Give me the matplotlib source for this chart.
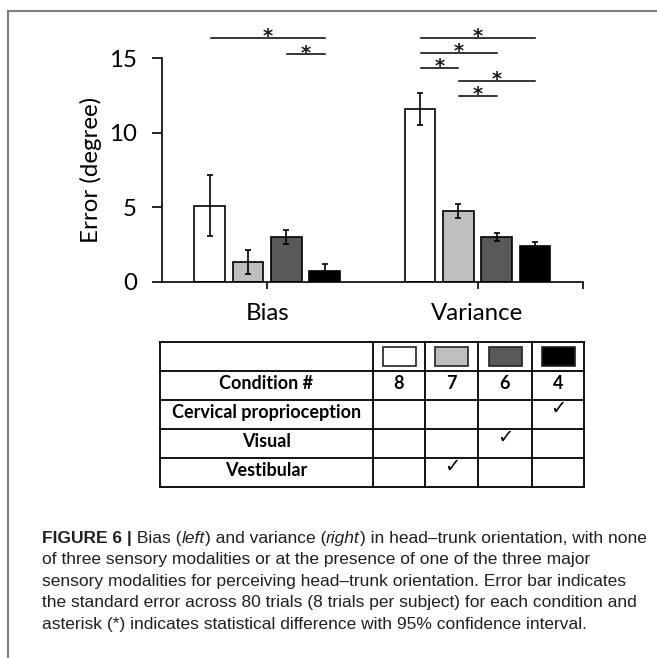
import matplotlib
matplotlib.use("Agg")
import matplotlib.pyplot as plt
from matplotlib.patches import Rectangle
import numpy as np

# ---------------- data ----------------
groups = ["Bias", "Variance"]
conditions = ["8", "7", "6", "4"]
bar_colors = ["#ffffff", "#bfbfbf", "#595959", "#000000"]
bias_vals = [5.1, 1.35, 3.0, 0.75]
bias_err = [2.05, 0.8, 0.5, 0.43]
var_vals = [11.6, 4.75, 3.0, 2.38]
var_err = [1.05, 0.48, 0.3, 0.28]
yticks = [0, 5, 10, 15]
# significance brackets: (group index, bar i, bar j, height)
sig_pairs = [(0, 0, 3, 16.38), (0, 2, 3, 15.26),
             (1, 0, 3, 16.38), (1, 0, 2, 15.35), (1, 0, 1, 14.34),
             (1, 1, 3, 13.49), (1, 1, 2, 12.48)]
row_labels = ["Condition #", "Cervical proprioception", "Visual", "Vestibular"]
# which condition column (0-based) carries a check for each modality row
checks = {"Cervical proprioception": 3, "Visual": 2, "Vestibular": 1}

caption_lines = [
    [("FIGURE 6 |", "bold", "normal"), (" Bias (", "normal", "normal"),
     ("left", "normal", "italic"), (") and variance (", "normal", "normal"),
     ("right", "normal", "italic"),
     (") in head\u2013trunk orientation, with none", "normal", "normal")],
    [("of three sensory modalities or at the presence of one of the three major", "normal", "normal")],
    [("sensory modalities for perceiving head\u2013trunk orientation. Error bar indicates", "normal", "normal")],
    [("the standard error across 80 trials (8 trials per subject) for each condition and", "normal", "normal")],
    [("asterisk (*) indicates statistical difference with 95% confidence interval.", "normal", "normal")],
]

# ---------------- figure ----------------
W, H = 657, 658
fig = plt.figure(figsize=(W / 100, H / 100), dpi=100)
fig.patch.set_facecolor("white")

def fx(px):
    return px / W

def fy(py):
    return 1 - py / H

# frame lines (top and left)
fig.add_artist(plt.Line2D([fx(8), fx(657)], [fy(10.5), fy(10.5)], color="#808080", lw=1.5))
fig.add_artist(plt.Line2D([fx(8), fx(8)], [fy(10.5), fy(658)], color="#808080", lw=1.5))

FONT = ["Lato", "DejaVu Sans"]
AX_FS = 17.3

ax = fig.add_axes([fx(162), fy(281.7), (582.7 - 162) / W, (281.7 - 58.3) / H])
ax.set_xlim(-0.5, 1.5)
ax.set_ylim(0, 15)

offs = (np.arange(4) - 1.5) * 0.182
bw = 0.145
vals = [bias_vals, var_vals]
errs = [bias_err, var_err]
for g in range(2):
    for i in range(4):
        ax.bar(g + offs[i], vals[g][i], width=bw, color=bar_colors[i],
               edgecolor="black", linewidth=1.2, zorder=2)
        ax.errorbar(g + offs[i], vals[g][i], yerr=errs[g][i], color="black",
                    elinewidth=1.2, capsize=2.4, capthick=1.2, zorder=3)

for g, i, j, h in sig_pairs:
    x1, x2 = g + offs[i] + 0.005, g + offs[j]
    ax.plot([x1, x2], [h, h], color="black", lw=1.1, clip_on=False)
    ax.annotate("*", xy=((x1 + x2) / 2, h), xytext=(0, -3),
                textcoords="offset points", ha="center", va="baseline",
                fontsize=14, family=["DejaVu Sans"], fontweight="bold",
                color="#1a1a1a", annotation_clip=False)

for s in ["top", "right"]:
    ax.spines[s].set_visible(False)
ax.spines["left"].set_linewidth(1.2)
ax.spines["bottom"].set_linewidth(1.2)
ax.set_yticks(yticks)
ax.set_yticklabels([str(t) for t in yticks], family=FONT, fontsize=AX_FS)
ax.tick_params(axis="y", length=7, width=1.2, pad=11)
ax.set_xticks([0, 1, 1.5])
ax.set_xticklabels([groups[0], groups[1], ""], family=FONT, fontsize=AX_FS)
ax.tick_params(axis="x", length=5, width=1.2, pad=10)
ax.set_ylabel("Error (degree)", family=FONT, fontsize=AX_FS, labelpad=5)

# ---------------- table ----------------
tx0, tx1 = 160, 584.3
ty0, ty1 = 341.7, 486.7
tab = fig.add_axes([fx(tx0), fy(ty1), (tx1 - tx0) / W, (ty1 - ty0) / H])
tab.set_xlim(tx0, tx1)
tab.set_ylim(ty1, ty0)
tab.axis("off")
col_edges = [160, 372.7, 425.3, 478.3, 531.7, 584.3]
row_edges = list(np.linspace(ty0, ty1, 6))
for xe in col_edges:
    tab.plot([xe, xe], [ty0, ty1], color="black", lw=1.3, clip_on=False, solid_capstyle="projecting")
for ye in row_edges:
    tab.plot([tx0, tx1], [ye, ye], color="black", lw=1.3, clip_on=False, solid_capstyle="projecting")

col_c = [(col_edges[k] + col_edges[k + 1]) / 2 for k in range(5)]
row_c = [(row_edges[k] + row_edges[k + 1]) / 2 for k in range(5)]
for i in range(4):
    tab.add_patch(Rectangle((col_c[i + 1] - 16.5, row_c[0] - 9.5), 33, 19,
                            facecolor=bar_colors[i], edgecolor="#222222", lw=1.2))
for r, lab in enumerate(row_labels):
    tab.text(col_c[0], row_c[r + 1] - 1.5, lab, ha="center", va="center",
             family=FONT, fontweight="bold", fontsize=13)
for i, c in enumerate(conditions):
    tab.text(col_c[i + 1], row_c[1] - 1.5, c, ha="center", va="center",
             family=FONT, fontweight="bold", fontsize=13)
for r, lab in enumerate(row_labels[1:]):
    ci = checks[lab]
    tab.text(col_c[ci + 1], row_edges[r + 2] + 8.5, "\u2713", ha="center", va="center",
             family=["DejaVu Sans"], fontweight="bold", fontsize=14)

# ---------------- caption ----------------
renderer = fig.canvas.get_renderer()
baselines = [542.7, 564.3, 585.9, 607.5, 629.1]
for line, yb in zip(caption_lines, baselines):
    x = 42
    for txt, wt, st in line:
        t = fig.text(fx(x), fy(yb), txt, ha="left", va="baseline",
                     family=["Liberation Sans", "DejaVu Sans"], fontsize=12.5,
                     fontweight=wt, fontstyle=st, color="#231f20")
        bb = t.get_window_extent(renderer)
        x += bb.width

fig.savefig("out.png", dpi=100)
